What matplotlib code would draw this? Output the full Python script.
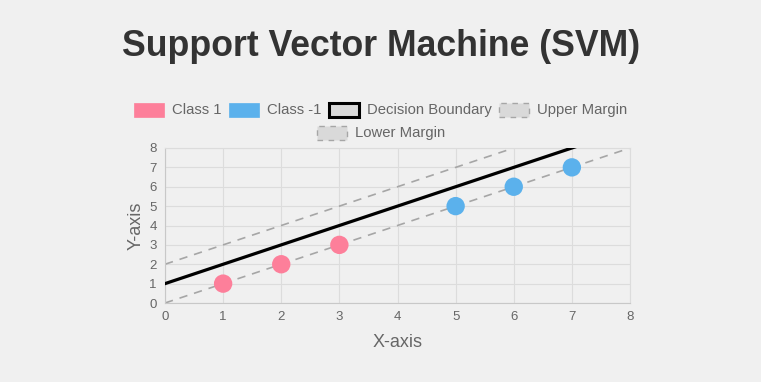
import matplotlib
matplotlib.use("Agg")
import matplotlib.pyplot as plt
from matplotlib.patches import Rectangle

# data
class1_x = [1, 2, 3]
class1_y = [1, 2, 3]
classneg_x = [5, 6, 7]
classneg_y = [5, 6, 7]
line_x = [0, 8]
boundary_y = [1, 9]
upper_y = [2, 10]
lower_y = [0, 8]
ticks = list(range(0, 9))

W, H = 761, 382
BG = "#f0f0f0"
PINK = "#fd7f9a"
BLUE = "#5bb1ec"
GRID = "#dcdcdc"
TXT = "#666666"

plt.rcParams["font.family"] = ["Liberation Sans", "DejaVu Sans"]
plt.rcParams["lines.scale_dashes"] = False

fig = plt.figure(figsize=(W / 100, H / 100), dpi=100, facecolor=BG)
ax = fig.add_axes([165 / W, (H - 303) / H, (630 - 165) / W, (303 - 148) / H])
ax.set_facecolor(BG)

ax.plot(line_x, upper_y, color="#a6a6a6", lw=1.2, dashes=(6, 5), zorder=2)
ax.plot(line_x, lower_y, color="#a6a6a6", lw=1.2, dashes=(6, 5), zorder=2)
ax.plot(line_x, boundary_y, color="black", lw=2.3, zorder=3)
ax.scatter(class1_x, class1_y, s=175, color=PINK, edgecolors="none", zorder=4)
ax.scatter(classneg_x, classneg_y, s=175, color=BLUE, edgecolors="none", zorder=4)

ax.set_xlim(0, 8)
ax.set_ylim(0, 8)
ax.set_xticks(ticks)
ax.set_yticks(ticks)
ax.grid(True, color=GRID, lw=0.8)
ax.set_axisbelow(True)
ax.tick_params(length=0, labelsize=9.5, colors=TXT, pad=6)
for s in ax.spines.values():
    s.set_color(GRID)
    s.set_linewidth(0.8)
ax.spines["left"].set_color("#c8c8c8")
ax.spines["bottom"].set_color("#c8c8c8")
ax.set_xlabel("X-axis", fontsize=13, color=TXT, labelpad=8)
ax.set_ylabel("Y-axis", fontsize=13, color=TXT, labelpad=3)

fig.text(381 / W, 1 - 46 / H, "Support Vector Machine (SVM)", ha="center", va="center",
         fontsize=25.7, fontweight="bold", color="#333333")


# legend drawn by hand (two centred rows like the original)
def px(x, y):
    return x / W, 1 - y / H


def legend_item(x, y, label, face, edge, lw, ls="solid"):
    bx, by = px(x, y + 7)
    r = Rectangle((bx, by), 30 / W, 14 / H, transform=fig.transFigure,
                  facecolor=face, edgecolor=edge, lw=lw, linestyle=ls)
    fig.add_artist(r)
    tx, ty = px(x + 38, y)
    fig.text(tx, ty, label, ha="left", va="center", fontsize=10.7, color=TXT)


legend_item(134, 110, "Class 1", PINK, PINK, 0.5)
legend_item(229, 110, "Class -1", BLUE, BLUE, 0.5)
legend_item(329, 110, "Decision Boundary", "#d9d9d9", "black", 2.2)
legend_item(499, 110, "Upper Margin", "#d9d9d9", "#a6a6a6", 1.0, (0, (4, 4)))
legend_item(317, 133, "Lower Margin", "#d9d9d9", "#a6a6a6", 1.0, (0, (4, 4)))

fig.savefig("out.png", dpi=100, facecolor=BG)
